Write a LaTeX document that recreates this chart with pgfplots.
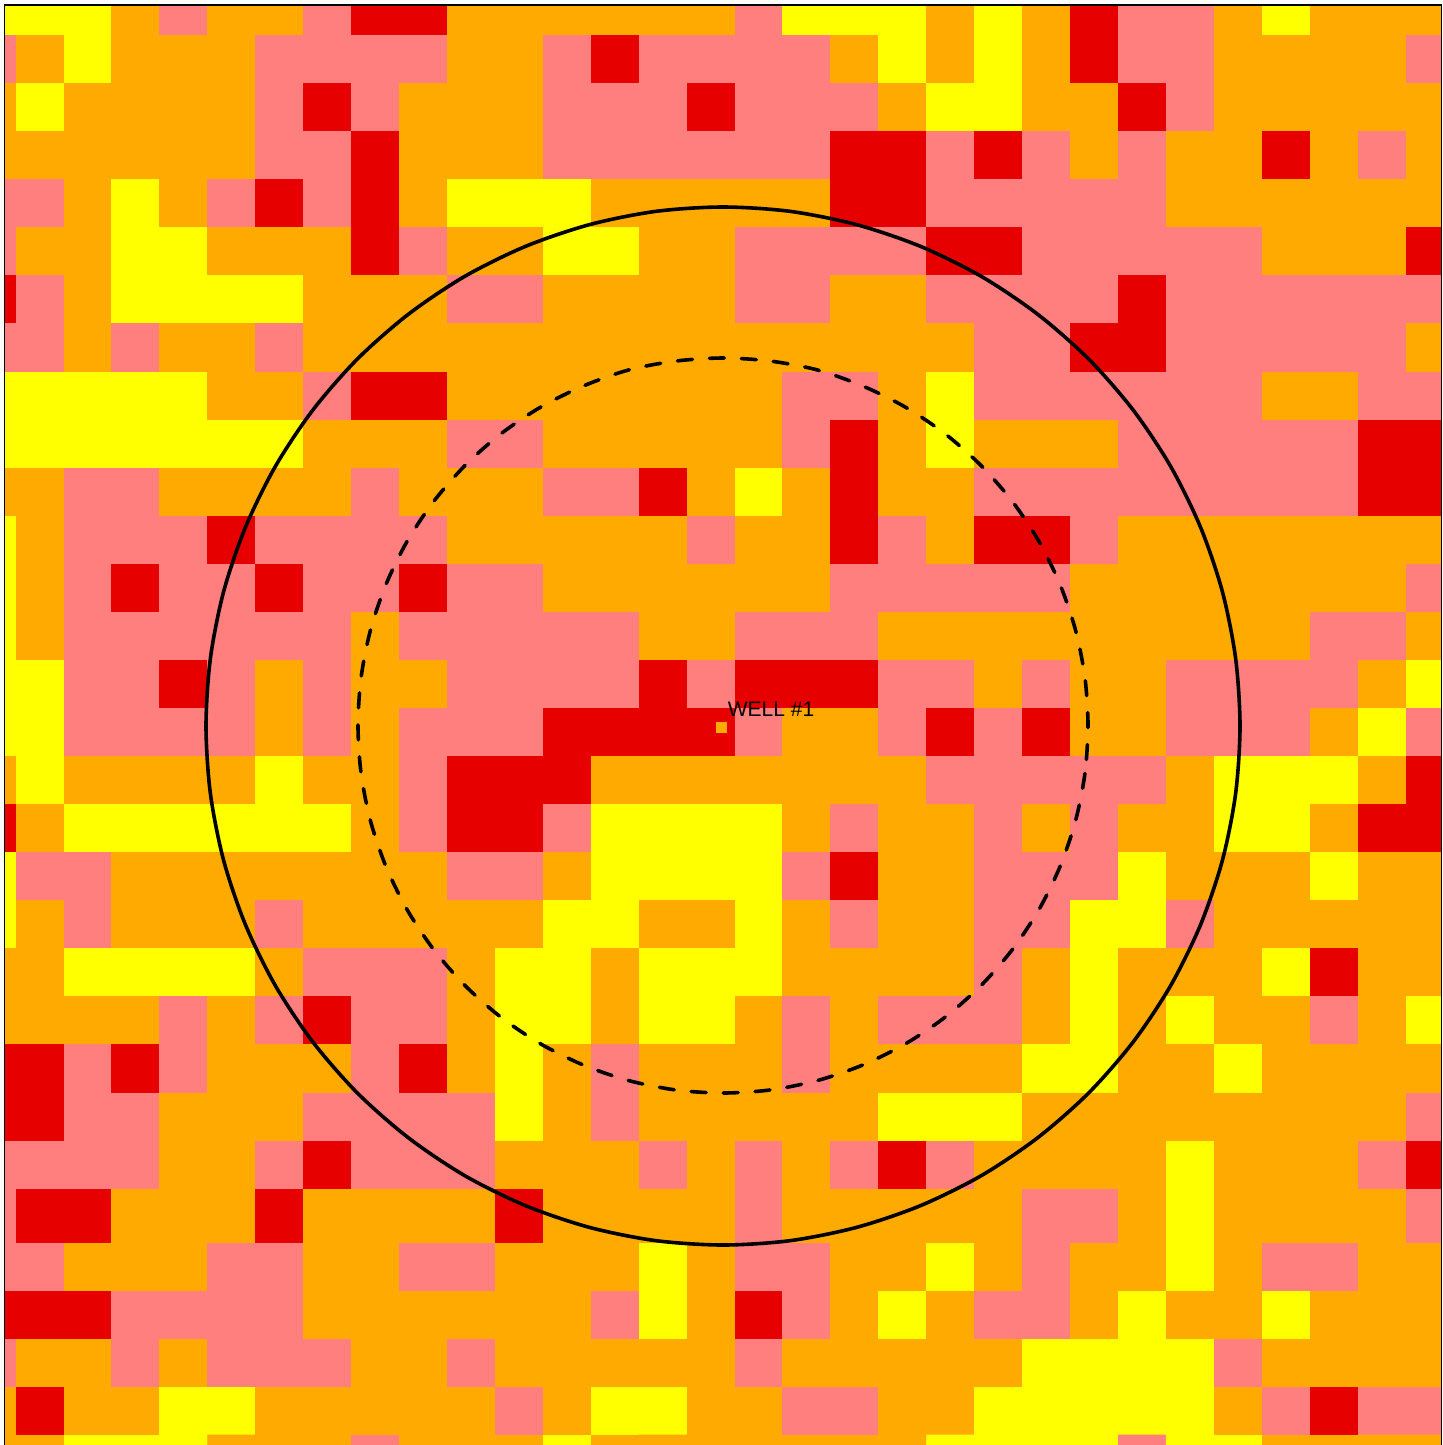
\documentclass[border=0pt]{standalone}
\usepackage{pgfplots}
\usepackage{fontspec}
\setmainfont{Liberation Sans}
\pgfplotsset{compat=1.18}
\definecolor{wellorange}{RGB}{255,170,0}
\begin{document}
\begin{tikzpicture}
\path[use as bounding box] (-2.2pt,0.5pt) rectangle (718.8pt,723pt);
\begin{axis}[
  scale only axis, width=718.5pt, height=720.5pt,
  xmin=4.4, xmax=1441.4, ymin=5, ymax=1446, y dir=reverse,
  xtick=\empty, ytick=\empty,
  axis line style={line width=0.8pt, black},
  axis on top,
  colormap={well}{rgb255(0)=(255,255,0) rgb255(1)=(255,170,0) rgb255(2)=(255,128,128) rgb255(3)=(230,0,0)},
  point meta min=0, point meta max=3,
]
\addplot[surf, shader=flat corner, mesh/cols=33, mesh/rows=32, point meta=explicit, forget plot]
table[row sep=\\, header=false, meta index=0,
  x expr={16+47.93*(mod(\coordindex,33)-2)},
  y expr={35+48*(floor(\coordindex/33)-1)+(floor(\coordindex/33)>=8)+(floor(\coordindex/33)>=23)+6*(floor(\coordindex/33)>=26)}]
{
1\\0\\0\\0\\1\\2\\1\\1\\2\\3\\3\\1\\1\\1\\1\\1\\1\\2\\0\\0\\0\\1\\0\\1\\3\\2\\2\\1\\0\\1\\1\\1\\1\\
1\\2\\1\\0\\1\\1\\1\\2\\2\\2\\2\\1\\1\\2\\3\\2\\2\\2\\2\\1\\0\\1\\0\\1\\3\\2\\2\\1\\1\\1\\1\\2\\1\\
1\\1\\0\\1\\1\\1\\1\\2\\3\\2\\1\\1\\1\\2\\2\\2\\3\\2\\2\\2\\1\\0\\0\\1\\1\\3\\2\\1\\1\\1\\1\\1\\1\\
1\\1\\1\\1\\1\\1\\1\\2\\2\\3\\1\\1\\1\\2\\2\\2\\2\\2\\2\\3\\3\\2\\3\\2\\1\\2\\1\\1\\3\\1\\2\\1\\1\\
1\\2\\2\\1\\0\\1\\2\\3\\2\\3\\1\\0\\0\\0\\1\\1\\1\\1\\1\\3\\3\\2\\2\\2\\2\\2\\1\\1\\1\\1\\1\\1\\1\\
1\\2\\1\\1\\0\\0\\1\\1\\1\\3\\2\\1\\1\\0\\0\\1\\1\\2\\2\\2\\2\\3\\3\\2\\2\\2\\2\\2\\1\\1\\1\\3\\1\\
1\\3\\2\\1\\0\\0\\0\\0\\1\\1\\1\\2\\2\\1\\1\\1\\1\\2\\2\\1\\1\\2\\2\\2\\2\\3\\2\\2\\2\\2\\2\\2\\1\\
1\\2\\2\\1\\2\\1\\1\\2\\1\\1\\1\\1\\1\\1\\1\\1\\1\\1\\1\\1\\1\\1\\2\\2\\3\\3\\2\\2\\2\\2\\2\\1\\1\\
1\\0\\0\\0\\0\\0\\1\\1\\2\\3\\3\\1\\1\\1\\1\\1\\1\\1\\2\\2\\1\\0\\2\\2\\2\\2\\2\\2\\1\\1\\2\\2\\1\\
1\\0\\0\\0\\0\\0\\0\\0\\1\\1\\1\\2\\2\\1\\1\\1\\1\\1\\2\\3\\1\\0\\1\\1\\1\\2\\2\\2\\2\\2\\3\\3\\1\\
1\\1\\1\\2\\2\\1\\1\\1\\1\\2\\1\\1\\1\\2\\2\\3\\1\\0\\1\\3\\1\\1\\2\\2\\2\\2\\2\\2\\2\\2\\3\\3\\1\\
1\\0\\1\\2\\2\\2\\3\\2\\2\\2\\2\\1\\1\\1\\1\\1\\2\\1\\1\\3\\2\\1\\3\\3\\2\\1\\1\\1\\1\\1\\1\\1\\1\\
1\\0\\1\\2\\3\\2\\2\\3\\2\\2\\3\\2\\2\\1\\1\\1\\1\\1\\1\\2\\2\\2\\2\\2\\1\\1\\1\\1\\1\\1\\1\\2\\1\\
1\\0\\1\\2\\2\\2\\2\\2\\2\\1\\2\\2\\2\\2\\2\\1\\1\\2\\2\\2\\1\\1\\1\\1\\1\\1\\1\\1\\1\\2\\2\\1\\1\\
1\\0\\0\\2\\2\\3\\2\\1\\2\\1\\1\\2\\2\\2\\2\\3\\2\\3\\3\\3\\2\\2\\1\\2\\1\\1\\2\\2\\2\\2\\1\\0\\1\\
1\\0\\0\\2\\2\\2\\2\\1\\2\\1\\2\\2\\2\\3\\3\\3\\3\\2\\1\\1\\2\\3\\2\\3\\1\\1\\2\\2\\2\\1\\0\\2\\1\\
1\\1\\0\\1\\1\\1\\1\\0\\1\\1\\2\\3\\3\\3\\1\\1\\1\\1\\1\\1\\1\\2\\2\\2\\2\\2\\1\\0\\0\\0\\1\\3\\1\\
1\\3\\1\\0\\0\\0\\0\\0\\0\\1\\2\\3\\3\\2\\0\\0\\0\\0\\1\\2\\1\\1\\2\\1\\2\\1\\1\\0\\0\\1\\3\\3\\1\\
1\\0\\2\\2\\1\\1\\1\\1\\1\\1\\1\\2\\2\\1\\0\\0\\0\\0\\2\\3\\1\\1\\2\\2\\2\\0\\1\\1\\1\\0\\1\\1\\1\\
1\\0\\1\\2\\1\\1\\1\\2\\1\\1\\1\\1\\1\\0\\0\\1\\1\\0\\1\\2\\1\\1\\2\\2\\0\\0\\2\\1\\1\\1\\1\\1\\1\\
1\\1\\1\\0\\0\\0\\0\\1\\2\\2\\2\\1\\0\\0\\1\\0\\0\\0\\1\\1\\1\\1\\2\\1\\0\\1\\1\\1\\0\\3\\1\\1\\1\\
1\\1\\1\\1\\1\\2\\1\\2\\3\\2\\2\\1\\0\\0\\1\\0\\0\\1\\2\\1\\2\\2\\2\\1\\0\\1\\0\\1\\1\\2\\1\\0\\1\\
1\\3\\3\\2\\3\\2\\1\\1\\1\\2\\3\\1\\0\\1\\2\\1\\1\\1\\2\\1\\1\\1\\1\\0\\0\\1\\1\\0\\1\\1\\1\\1\\1\\
1\\3\\3\\2\\2\\1\\1\\1\\2\\2\\2\\2\\0\\1\\2\\1\\1\\1\\1\\1\\0\\0\\0\\1\\1\\1\\1\\1\\1\\1\\1\\2\\1\\
1\\2\\2\\2\\2\\1\\1\\2\\3\\2\\2\\2\\1\\1\\1\\2\\1\\2\\1\\2\\3\\2\\1\\1\\1\\1\\0\\1\\1\\1\\2\\3\\1\\
1\\2\\3\\3\\1\\1\\1\\3\\1\\1\\1\\1\\3\\1\\1\\1\\1\\2\\1\\1\\1\\1\\1\\2\\2\\1\\0\\1\\1\\1\\1\\2\\1\\
1\\2\\2\\1\\1\\1\\2\\2\\1\\1\\2\\2\\1\\1\\1\\0\\1\\2\\2\\1\\1\\0\\1\\2\\1\\1\\0\\1\\2\\2\\1\\1\\1\\
1\\3\\3\\3\\2\\2\\2\\2\\1\\1\\1\\1\\1\\1\\2\\0\\1\\3\\2\\1\\0\\1\\2\\2\\1\\0\\1\\1\\0\\1\\1\\1\\1\\
1\\2\\1\\1\\2\\1\\2\\2\\2\\1\\1\\2\\1\\1\\1\\1\\1\\2\\1\\1\\1\\1\\1\\0\\0\\0\\0\\2\\1\\1\\1\\1\\1\\
1\\1\\3\\1\\1\\0\\0\\1\\1\\1\\1\\1\\2\\1\\0\\0\\1\\1\\2\\2\\1\\1\\0\\0\\0\\0\\0\\1\\2\\3\\2\\2\\1\\
1\\1\\1\\0\\0\\0\\1\\1\\1\\2\\1\\1\\1\\0\\1\\1\\1\\1\\1\\1\\1\\0\\0\\0\\0\\2\\0\\0\\1\\1\\1\\1\\1\\
1\\1\\1\\1\\1\\1\\1\\1\\1\\1\\1\\1\\1\\1\\1\\1\\1\\1\\1\\1\\1\\1\\1\\1\\1\\1\\1\\1\\1\\1\\1\\1\\1\\
};
\addplot[black, line width=1.8pt, smooth cycle, forget plot] coordinates {
(1240,726)(1235.6,793.7)(1222.4,860.3)(1200.6,924.6)(1170.7,985.5)(1133.2,1041.9)(1088.6,1093)(1037.7,1137.7)(981.5,1175.5)(920.8,1205.5)(856.8,1227.3)(790.5,1240.6)(723,1245)
(655.5,1240.6)(589.2,1227.3)(525.2,1205.5)(464.5,1175.5)(408.3,1137.7)(357.4,1093)(312.8,1041.9)(275.3,985.5)(245.4,924.6)(223.6,860.3)(210.4,793.7)(206,726)
(210.4,658.3)(223.6,591.7)(245.4,527.4)(275.3,466.5)(312.8,410.1)(357.4,359)(408.3,314.3)(464.5,276.5)(525.2,246.5)(589.2,224.7)(655.5,211.4)(723,207)
(790.5,211.4)(856.8,224.7)(920.8,246.5)(981.5,276.5)(1037.7,314.3)(1088.6,359)(1133.2,410.1)(1170.7,466.5)(1200.6,527.4)(1222.4,591.7)(1235.6,658.3)};
\addplot[black, line width=1.8pt, line cap=round, dash pattern=on 7.5pt off 8.5pt, smooth cycle, forget plot] coordinates {
(1088,725.5)(1084.9,773.5)(1075.6,820.6)(1060.2,866.1)(1039.1,909.3)(1012.6,949.2)(981.1,985.4)(945.2,1017.1)(905.5,1043.8)(862.7,1065)(817.5,1080.5)(770.6,1089.9)(723,1093)
(675.4,1089.9)(628.5,1080.5)(583.3,1065)(540.5,1043.8)(500.8,1017.1)(464.9,985.4)(433.4,949.2)(406.9,909.3)(385.8,866.1)(370.4,820.6)(361.1,773.5)(358,725.5)
(361.1,677.5)(370.4,630.4)(385.8,584.9)(406.9,541.7)(433.4,501.8)(464.9,465.6)(500.8,433.9)(540.5,407.2)(583.3,386)(628.5,370)(675.4,361.1)(723,358)
(770.6,361.1)(817.5,370)(862.7,386)(905.5,407.2)(945.2,433.9)(981.1,465.6)(1012.6,501.8)(1039.1,541.7)(1060.2,584.9)(1075.6,630.4)(1084.9,677.5)};
\addplot[only marks, color=wellorange, mark=square*, mark size=2.55pt, forget plot] coordinates {(721.5,727.5)};
\node[anchor=west, inner sep=0pt, font=\fontsize{10.5}{13}\selectfont, text=black] at (axis cs:727.5,709.5) {WELL \#1};
\end{axis}
\end{tikzpicture}
\end{document}
